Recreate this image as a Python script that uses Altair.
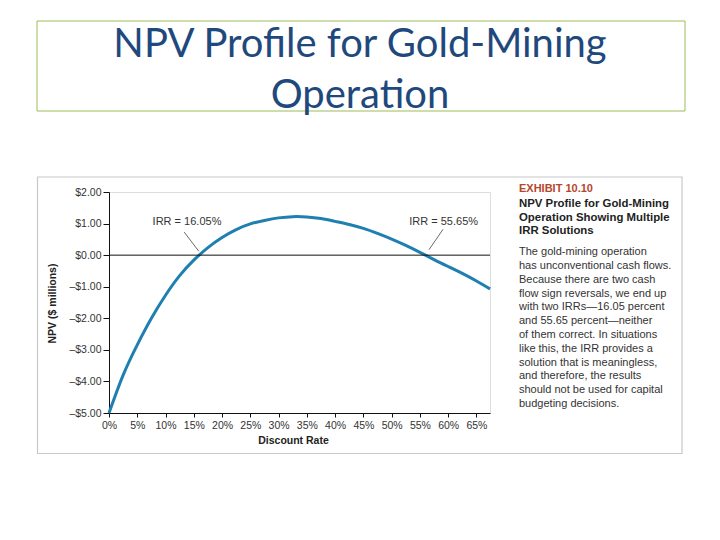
import altair as alt
import pandas as pd

# ---- data ----
rates = [0, 2.5, 5, 7.5, 10, 12.5, 15, 17.5, 20, 22.5, 25, 27.5, 30, 32.5, 35,
         37.5, 40, 42.5, 45, 47.5, 50, 52.5, 55, 57.5, 60, 62.5, 65, 67.4]
npv = [-5.00, -3.80, -2.84, -2.00, -1.27, -0.65, -0.16, 0.24, 0.56, 0.81, 0.99,
       1.10, 1.18, 1.22, 1.21, 1.16, 1.07, 0.97, 0.85, 0.69, 0.51, 0.31, 0.09,
       -0.14, -0.36, -0.58, -0.82, -1.07]

x_ticks = [0, 5, 10, 15, 20, 25, 30, 35, 40, 45, 50, 55, 60, 65]
y_ticks = [-5, -4, -3, -2, -1, 0, 1, 2]

irr_labels = ["IRR = 16.05%", "IRR = 55.65%"]
irr_label_x = [13.8, 59.2]
irr_label_y = [1.05, 1.05]
leader_x1 = [13.3, 59.1]
leader_y1 = [0.73, 0.82]
leader_x2 = [15.9, 56.6]
leader_y2 = [0.12, 0.17]

slide_title = ["NPV Profile for Gold-Mining", "Operation"]
exhibit_no = "EXHIBIT 10.10"
exhibit_title = ["NPV Profile for Gold-Mining", "Operation Showing Multiple", "IRR Solutions"]
exhibit_body = [
    "The gold-mining operation",
    "has unconventional cash flows.",
    "Because there are two cash",
    "flow sign reversals, we end up",
    "with two IRRs\u201416.05 percent",
    "and 55.65 percent\u2014neither",
    "of them correct. In situations",
    "like this, the IRR provides a",
    "solution that is meaningless,",
    "and therefore, the results",
    "should not be used for capital",
    "budgeting decisions.",
]

curve_df = pd.DataFrame({"rate": rates, "npv": npv})
lab_df = pd.DataFrame({"label": irr_labels, "x": irr_label_x, "y": irr_label_y})
lead_df = pd.DataFrame({"x": leader_x1, "y": leader_y1, "x2": leader_x2, "y2": leader_y2})
one = pd.DataFrame({"k": [0]})

W, H = 381, 221
FONT = "Liberation Sans"

xscale = alt.Scale(domain=[0, 67.4], nice=False, zero=False)
yscale = alt.Scale(domain=[-5, 2], nice=False, zero=False)

x_axis = alt.Axis(
    values=x_ticks, labelExpr="datum.value + '%'", title="Discount Rate",
    grid=False, domainColor="#111", tickColor="#111", tickSize=4,
    labelFont=FONT, labelFontSize=10.5, labelColor="#333", labelPadding=3,
    labelOverlap=False,
    titleFont=FONT, titleFontSize=10.5, titleFontWeight="bold", titleColor="#222",
    titleX=184, titleY=27, titleBaseline="middle", titleAnchor="middle",
    labelFlush=False,
)
y_axis = alt.Axis(
    values=y_ticks,
    labelExpr="datum.value < 0 ? '\u2013$' + format(-datum.value, '.2f') : '$' + format(datum.value, '.2f')",
    title="NPV ($ millions)", grid=False, domainColor="#111", tickColor="#111",
    tickSize=6, labelFont=FONT, labelFontSize=10.5, labelColor="#333", labelPadding=2,
    labelOverlap=False,
    titleFont=FONT, titleFontSize=10.5, titleFontWeight="bold", titleColor="#222",
    titleX=-57, titleY=111, titleAngle=270, titleBaseline="middle", titleAlign="center",
    labelFlush=False,
)

curve = alt.Chart(curve_df).mark_line(
    color="#1e7fb0", strokeWidth=3, interpolate="natural"
).encode(
    x=alt.X("rate:Q", scale=xscale, axis=x_axis),
    y=alt.Y("npv:Q", scale=yscale, axis=y_axis),
)

zero = alt.Chart(one).mark_rule(color="#111", strokeWidth=1).encode(
    y=alt.YDatum(0, scale=yscale, axis=y_axis)
)

leaders = alt.Chart(lead_df).mark_rule(color="#444", strokeWidth=0.8).encode(
    x=alt.X("x:Q", scale=xscale, axis=x_axis), y=alt.Y("y:Q", scale=yscale, axis=y_axis),
    x2="x2:Q", y2="y2:Q"
)

irr_text = alt.Chart(lab_df).mark_text(
    font=FONT, fontSize=11, color="#333", align="center", baseline="middle"
).encode(
    x=alt.X("x:Q", scale=xscale, axis=x_axis), y=alt.Y("y:Q", scale=yscale, axis=y_axis),
    text="label:N"
)

# decorations (slide title box, exhibit frame, caption)
title_box = alt.Chart(one).mark_rect(
    fillOpacity=0, stroke="#9bbb59", strokeWidth=1
).encode(x=alt.value(-72), x2=alt.value(576), y=alt.value(-171), y2=alt.value(-81))

frame = alt.Chart(one).mark_rect(
    fillOpacity=0, stroke="#c8c8c8", strokeWidth=1.2
).encode(x=alt.value(-71.5), x2=alt.value(573), y=alt.value(-15), y2=alt.value(261.5))

title1 = alt.Chart(one).mark_text(
    font="Lato", fontSize=40, color="#1f497d", align="center", baseline="alphabetic"
).encode(x=alt.value(251), y=alt.value(-135), text=alt.value(slide_title[0]))
title2 = alt.Chart(one).mark_text(
    font="Lato", fontSize=40, color="#1f497d", align="center", baseline="alphabetic"
).encode(x=alt.value(251), y=alt.value(-84), text=alt.value(slide_title[1]))

ex_no = alt.Chart(one).mark_text(
    font=FONT, fontSize=11, fontWeight="bold", color="#b5472c", align="left", baseline="alphabetic"
).encode(x=alt.value(410), y=alt.value(0), text=alt.value(exhibit_no))

ex_title = alt.Chart(one).mark_text(
    font=FONT, fontSize=11.4, fontWeight="bold", color="#222", align="left", baseline="top",
    lineHeight=13.5
).encode(x=alt.value(410), y=alt.value(6.0), text=alt.value(exhibit_title))

ex_body = alt.Chart(one).mark_text(
    font=FONT, fontSize=11, color="#333", align="left", baseline="top", lineHeight=13.8
).encode(x=alt.value(410), y=alt.value(54.3), text=alt.value(exhibit_body))

chart = alt.layer(
    title_box, frame, title1, title2, curve, zero, leaders, irr_text, ex_no, ex_title, ex_body
).properties(
    width=W, height=H,
    autosize=alt.AutoSizeParams(type="none"),
    padding={"left": 101, "top": 184, "right": 704 - 101 - W, "bottom": 524 - 184 - H},
).configure_view(strokeOpacity=0).configure(background="white")

chart.save("out.html", embed_options={"renderer": "svg", "actions": False})
